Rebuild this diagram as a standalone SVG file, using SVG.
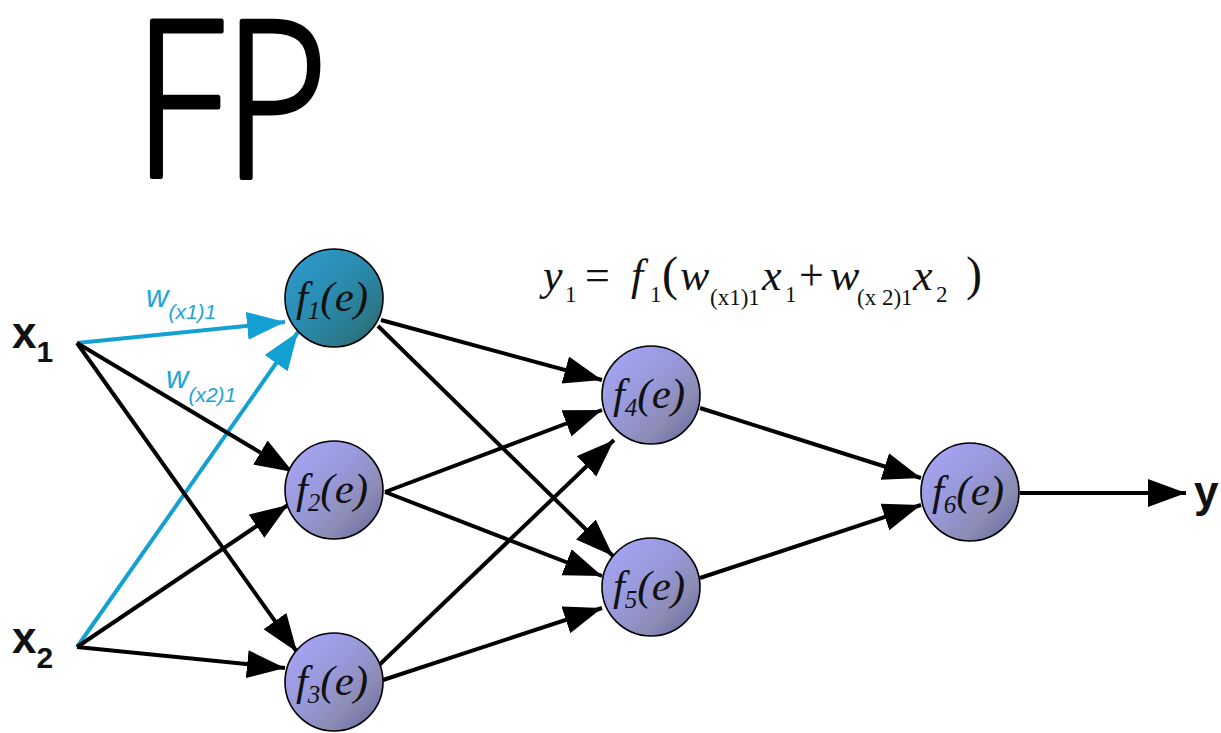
<svg xmlns="http://www.w3.org/2000/svg" width="1221" height="733" viewBox="0 0 1221 733">
<defs>
<style>
.edge{stroke:#000;stroke-width:4;fill:none;marker-end:url(#ah)}
.bedge{stroke:#13A0D2;stroke-width:4;fill:none;marker-end:url(#abh)}
.node{fill:url(#gl);stroke:#000;stroke-width:1.6}
.node1{fill:url(#gt);stroke:#000;stroke-width:1.6}
.nt{font-family:"Liberation Serif",serif;font-style:italic;font-size:43px;fill:#111}
.sub{font-size:25px}
.lab{font-family:"Liberation Sans",Arial,sans-serif;font-weight:bold;fill:#111}
.wl{font-family:"Liberation Sans",Arial,sans-serif;font-style:italic;fill:#20A4D8}
.eq{font-family:"Liberation Serif","Times New Roman",serif;font-size:44px;fill:#111}
.it{font-style:italic}
.es{font-size:23px}
</style>
<linearGradient id="gl" x1="0" y1="0" x2="1" y2="1">
<stop offset="0" stop-color="#A8A8FA"/>
<stop offset="0.45" stop-color="#9898DA"/>
<stop offset="0.7" stop-color="#8C8CB4"/>
<stop offset="1" stop-color="#62629E"/>
</linearGradient>
<linearGradient id="gt" x1="0" y1="0" x2="1" y2="1">
<stop offset="0" stop-color="#2F9CD4"/>
<stop offset="0.45" stop-color="#2A8CB0"/>
<stop offset="0.75" stop-color="#2C7A8C"/>
<stop offset="1" stop-color="#2A5E62"/>
</linearGradient>
<marker id="ah" markerUnits="userSpaceOnUse" markerWidth="40" markerHeight="30" refX="38" refY="14" orient="auto">
<path d="M0,0 L38,14 L0,28 z" fill="#000"/>
</marker>
<marker id="abh" markerUnits="userSpaceOnUse" markerWidth="40" markerHeight="30" refX="38" refY="14" orient="auto">
<path d="M0,0 L38,14 L0,28 z" fill="#13A0D2"/>
</marker>
</defs>
<rect width="1221" height="733" fill="#fff"/>

<g id="title">
<text x="134" y="177" font-family="Open Sans, Liberation Sans, sans-serif" font-weight="300" font-size="218" textLength="194" lengthAdjust="spacingAndGlyphs" fill="#000" stroke="#000" stroke-width="5" stroke-linejoin="round">FP</text>
</g>

<g id="formula" class="eq">
<text y="290"><tspan x="543" class="it">y</tspan><tspan x="565" y="302" class="es">1</tspan><tspan x="585" y="290">=</tspan><tspan x="631" class="it">f</tspan><tspan x="650" y="302" class="es">1</tspan><tspan x="662" y="290" font-size="48">(</tspan><tspan x="680" class="it">w</tspan><tspan x="710" y="305" class="es">(x1)1</tspan><tspan x="762" y="290" class="it">x</tspan><tspan x="785" y="302" class="es">1</tspan><tspan x="799" y="290">+</tspan><tspan x="830" class="it">w</tspan><tspan x="857" y="305" class="es">(x 2)1</tspan><tspan x="913" y="290" class="it">x</tspan><tspan x="936" y="302" class="es">2</tspan><tspan x="966" y="290" font-size="48">)</tspan></text>
</g>

<g id="connectors">
<line class="bedge" x1="77" y1="343" x2="285" y2="322"/>
<line class="bedge" x1="77" y1="647" x2="298" y2="332"/>
<line class="edge" x1="77" y1="343" x2="293" y2="472"/>
<line class="edge" x1="77" y1="343" x2="297" y2="652"/>
<line class="edge" x1="77" y1="647" x2="288" y2="505"/>
<line class="edge" x1="77" y1="647" x2="285" y2="668"/>
<line class="edge" x1="381" y1="320" x2="602" y2="380"/>
<line class="edge" x1="378" y1="326" x2="613" y2="556"/>
<line class="edge" x1="385" y1="492" x2="602" y2="410"/>
<line class="edge" x1="385" y1="492" x2="602" y2="576"/>
<line class="edge" x1="376" y1="668" x2="614" y2="440"/>
<line class="edge" x1="383" y1="680" x2="602" y2="608"/>
<line class="edge" x1="700" y1="408" x2="921" y2="478"/>
<line class="edge" x1="700" y1="578" x2="921" y2="505"/>
<line class="edge" x1="1020" y1="493" x2="1186" y2="493"/>
</g>

<g id="label-w1">
<text class="wl" x="146" y="307" font-size="31">w<tspan font-size="21" dy="12">(x1)1</tspan></text>
</g>
<g id="label-w2">
<text class="wl" x="166" y="388" font-size="31">w<tspan font-size="21" dy="14">(x2)1</tspan></text>
</g>

<g id="x1">
<text class="lab" x="12" y="348" font-size="44">x<tspan font-size="30" dy="14">1</tspan></text>
</g>
<g id="x2">
<text class="lab" x="12" y="653" font-size="44">x<tspan font-size="30" dy="15">2</tspan></text>
</g>
<g id="y">
<text class="lab" x="1194" y="507" font-size="44">y</text>
</g>

<g id="f1">
<circle class="node1" cx="334" cy="298" r="49"/>
<text class="nt" x="332" y="311" text-anchor="middle">f<tspan class="sub" dy="8">1</tspan><tspan dy="-8">(e)</tspan></text>
</g>
<g id="f2">
<circle class="node" cx="334" cy="490" r="49"/>
<text class="nt" x="332" y="503" text-anchor="middle">f<tspan class="sub" dy="8">2</tspan><tspan dy="-8">(e)</tspan></text>
</g>
<g id="f3">
<circle class="node" cx="334" cy="682" r="49"/>
<text class="nt" x="332" y="695" text-anchor="middle">f<tspan class="sub" dy="8">3</tspan><tspan dy="-8">(e)</tspan></text>
</g>
<g id="f4">
<circle class="node" cx="651" cy="395" r="49"/>
<text class="nt" x="649" y="408" text-anchor="middle">f<tspan class="sub" dy="8">4</tspan><tspan dy="-8">(e)</tspan></text>
</g>
<g id="f5">
<circle class="node" cx="651" cy="587" r="49"/>
<text class="nt" x="649" y="600" text-anchor="middle">f<tspan class="sub" dy="8">5</tspan><tspan dy="-8">(e)</tspan></text>
</g>
<g id="f6">
<circle class="node" cx="970" cy="492" r="49"/>
<text class="nt" x="968" y="505" text-anchor="middle">f<tspan class="sub" dy="8">6</tspan><tspan dy="-8">(e)</tspan></text>
</g>
</svg>
